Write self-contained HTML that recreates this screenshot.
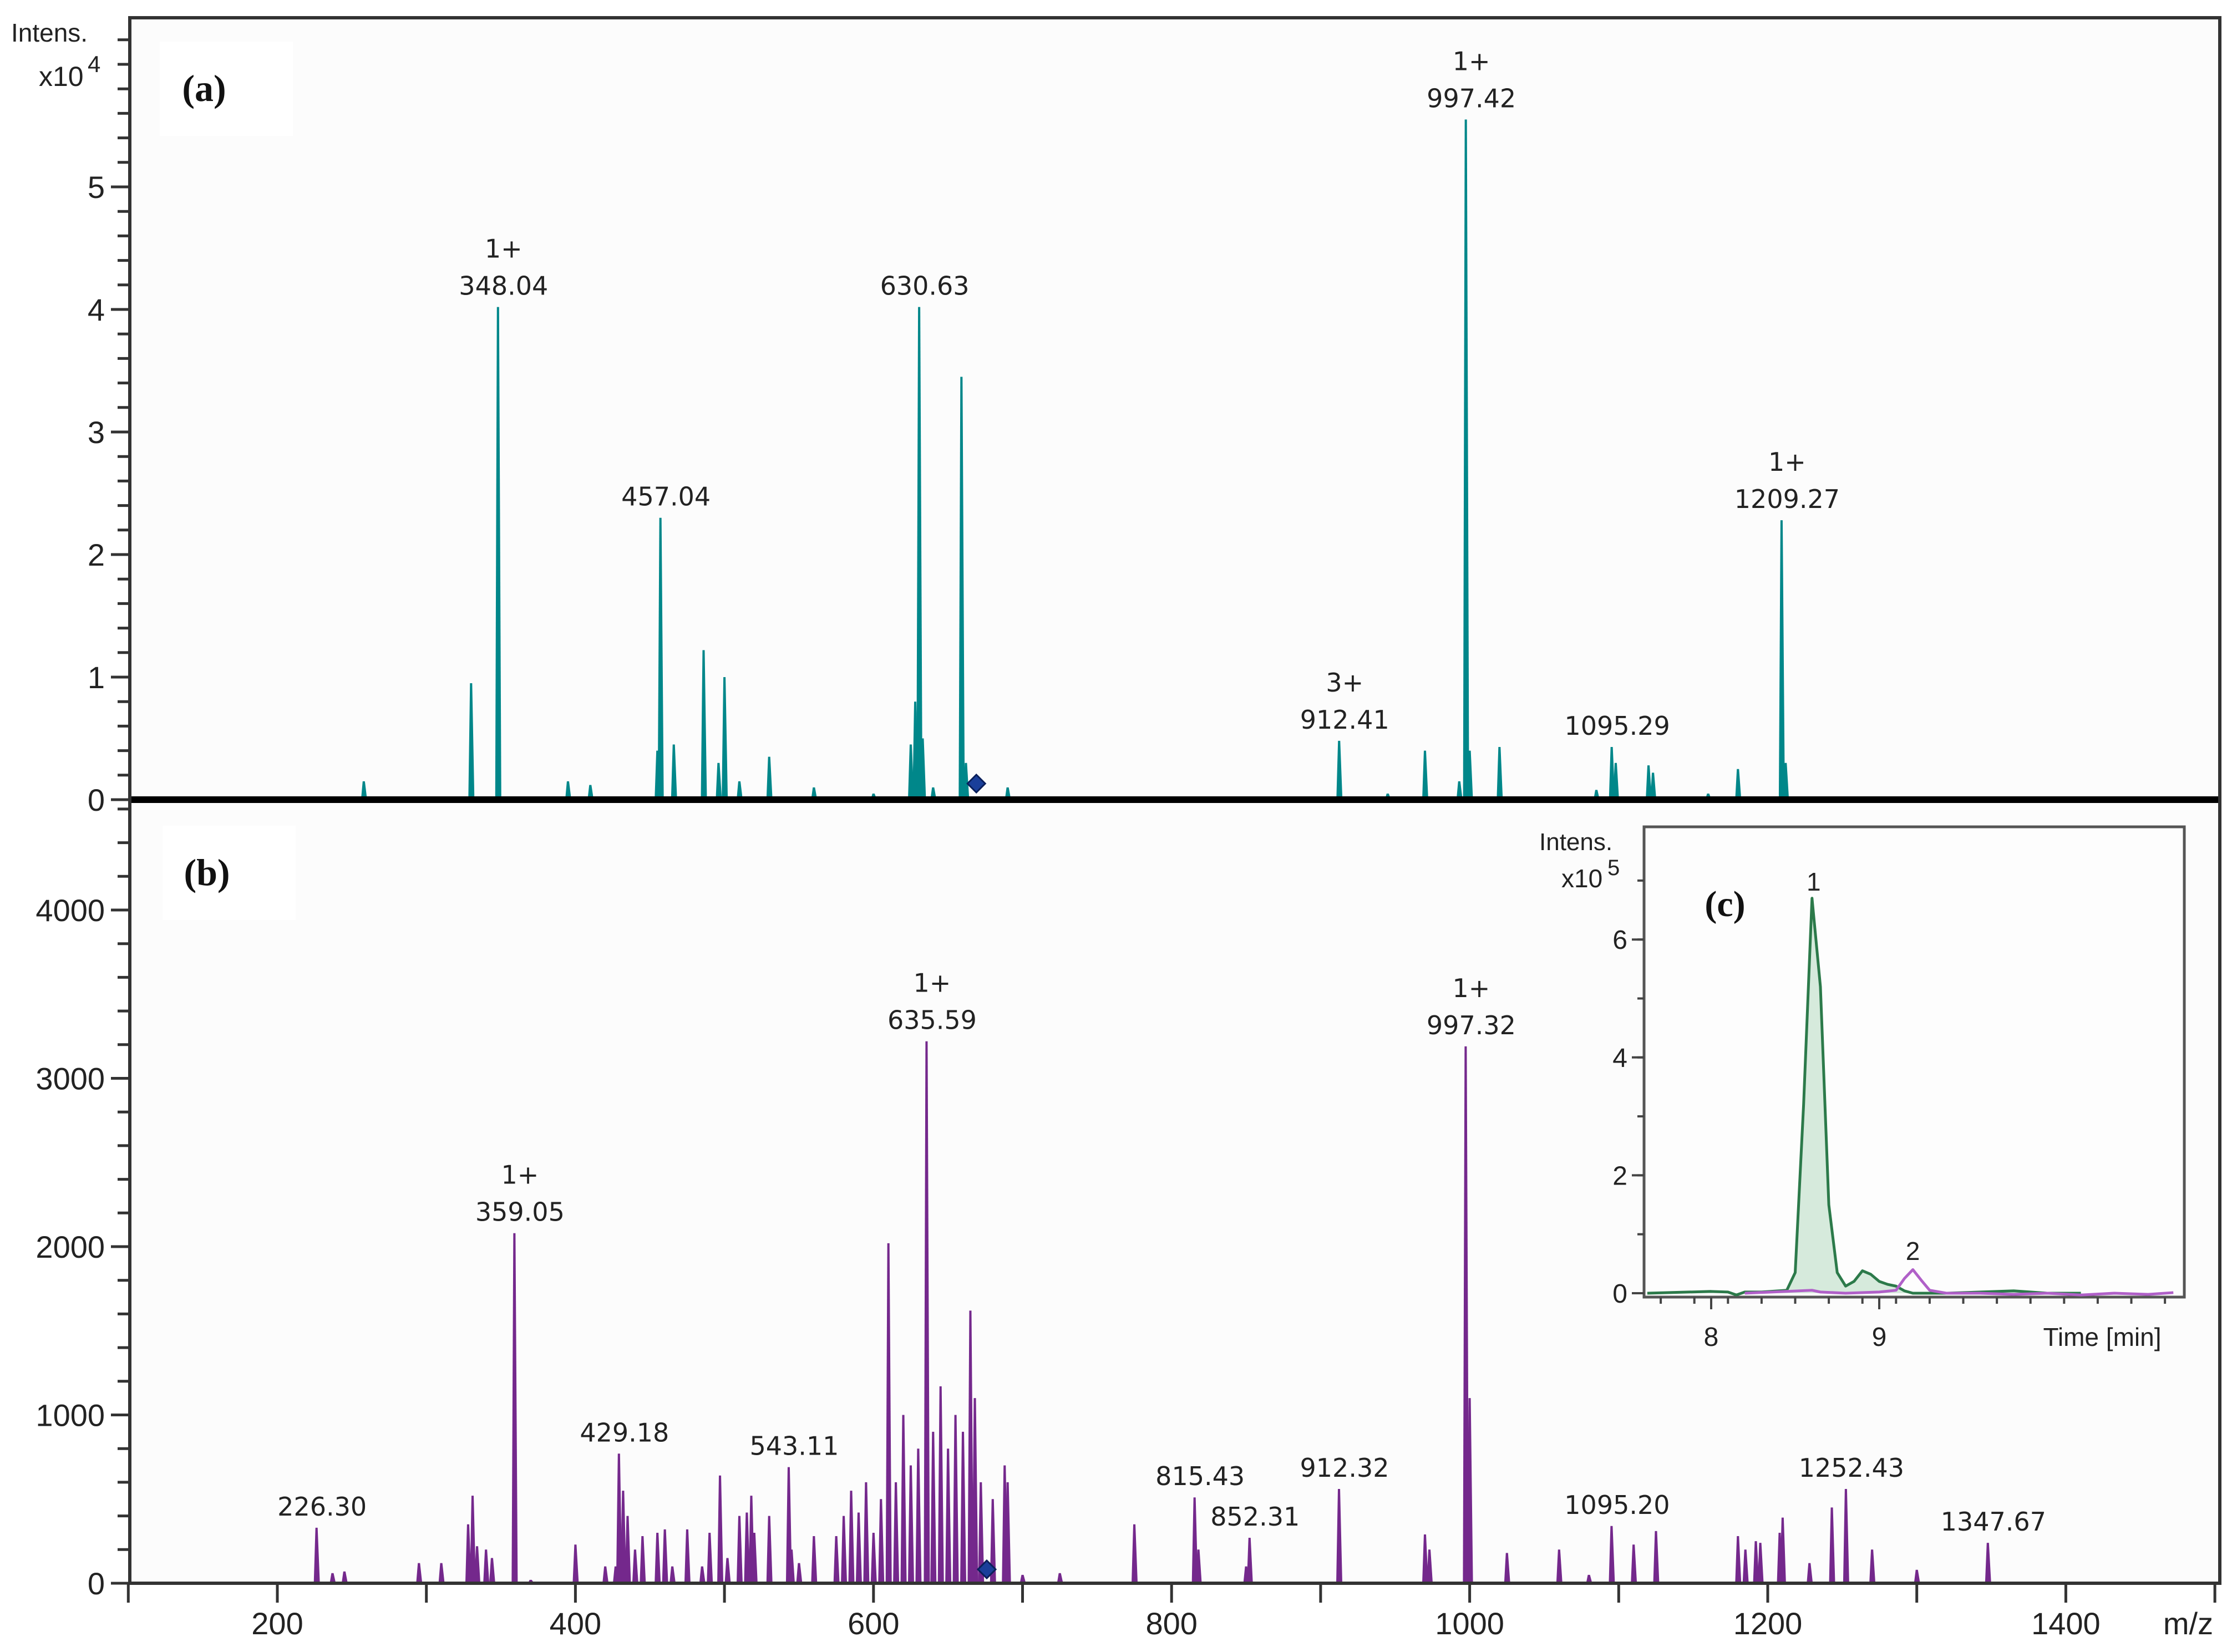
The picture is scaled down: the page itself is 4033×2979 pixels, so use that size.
<!DOCTYPE html>
<html><head><meta charset="utf-8"><style>
html,body{margin:0;padding:0;background:#fff;}
svg{display:block;}
text{font-family:"Liberation Sans",sans-serif;}
.lbl{font-family:"DejaVu Sans","Liberation Sans",sans-serif;font-size:46px;fill:#222;text-anchor:middle;}
.tk{font-size:56px;fill:#222;}
.serif{font-family:"Liberation Serif",serif !important;font-weight:bold;}
</style></head><body>
<svg id="fig" width="4033" height="2979" viewBox="0 0 4033 2979" xmlns="http://www.w3.org/2000/svg">
<rect x="0" y="0" width="4033" height="2979" fill="#ffffff"/>
<rect x="234" y="32" width="3768" height="2823" fill="#fcfcfc"/>
<g id="gA"></g><g id="gB"></g><g id="gC"></g><g id="gAx"></g>
</svg>
<script>
// ---- panel (a) data (intensity x10^4) ----
const aMz  = [258,330,348.04,395,410,455,457.04,466,486,496,500,510,530,560,600,625,628,630.63,633,640,659,662,690,912.41,945,970,993,997.42,1000,1020,1085,1095.29,1098,1120,1123,1160,1180,1209.27,1212,1290];
const aInt = [0.15,0.95,4.02,0.15,0.12,0.4,2.3,0.45,1.22,0.3,1.0,0.15,0.35,0.1,0.05,0.45,0.8,4.02,0.5,0.1,3.45,0.3,0.1,0.48,0.05,0.4,0.15,5.55,0.4,0.43,0.08,0.43,0.3,0.28,0.22,0.05,0.25,2.28,0.3,0.02];
const aLabMz = [348.04,457.04,630.63,997.42,912.41,1095.29,1209.27];
const aLabInt = [4.02,2.3,4.02,5.55,0.48,0.43,2.28];
const aLabTop = ["1+","","","1+","3+","","1+"];
const aLabBot = ["348.04","457.04","630.63","997.42","912.41","1095.29","1209.27"];
const aTicks = [0,1,2,3,4,5];
// ---- panel (b) data (intensity) ----
const bMz  = [226.30,237,245,295,310,328,331,334,340,344,359.05,370,400,420,427,429.18,432,435,440,445,455,460,465,475,485,490,497,502,510,515,518,520,530,543.11,545,550,560,575,580,585,590,595,600,605,610,615,620,625,630,635.59,640,645,650,655,660,665,668,672,680,688,690,700,725,775,815.43,818,850,852.31,912.32,970,973,997.32,1000,1025,1060,1080,1095.20,1110,1125,1180,1185,1192,1195,1208,1210,1228,1243,1252.43,1270,1300,1347.67];
const bInt = [330,60,70,120,120,350,520,220,200,150,2080,20,230,100,100,770,550,400,200,280,300,320,100,320,100,300,640,150,400,420,520,300,400,690,200,120,280,280,400,550,420,600,300,500,2020,600,1000,700,800,3220,900,1170,800,1000,900,1620,1100,600,500,700,600,50,60,350,510,200,100,270,560,290,200,3190,1100,180,200,50,340,230,310,280,200,250,240,300,390,120,450,560,200,80,240];
const bLabMz = [226.30,359.05,429.18,543.11,635.59,815.43,852.31,912.32,997.32,1095.20,1252.43,1347.67];
const bLabInt = [330,2080,770,690,3220,510,270,560,3190,340,560,240];
const bLabTop = ["","1+","","","1+","","","","1+","","",""];
const bLabBot = ["226.30","359.05","429.18","543.11","635.59","815.43","852.31","912.32","997.32","1095.20","1252.43","1347.67"];
const bTicks = [0,1000,2000,3000,4000];
const xTicks = [200,400,600,800,1000,1200,1400];
// ---- inset (c) data (x10^5) ----
const cTimeG = [7.62,8.0,8.1,8.15,8.2,8.3,8.45,8.5,8.55,8.6,8.65,8.7,8.75,8.8,8.85,8.9,8.95,9.0,9.05,9.1,9.15,9.2,9.4,9.8,10.0,10.2];
const cValG  = [0.0,0.03,0.02,-0.03,0.02,0.02,0.05,0.35,3.2,6.7,5.2,1.5,0.35,0.12,0.2,0.38,0.32,0.2,0.15,0.12,0.04,0.0,0.0,0.04,0.0,0.0];
const cTimeP = [8.2,8.6,8.65,8.8,9.0,9.1,9.15,9.2,9.25,9.3,9.4,9.6,9.8,10.0,10.2,10.4,10.6,10.75];
const cValP  = [0.0,0.05,0.02,0.0,0.02,0.05,0.25,0.4,0.22,0.05,0.0,0.0,-0.02,0.0,-0.03,0.0,-0.02,0.01];
const cTicks = [0,2,4,6];
const cXTicks = [8,9];

const NS="http://www.w3.org/2000/svg";
function mk(tag,attrs,parent){const e=document.createElementNS(NS,tag);for(const k in attrs)e.setAttribute(k,attrs[k]);parent.appendChild(e);return e;}
const X0=234,X1=4002;
const xS=m=>500+(m-200)*2.687;
const yA=v=>1442-v*221;
const yB=v=>2855-v*0.3035;
const xC=t=>3085+(t-8)*303;
const yC=v=>2332-v*106.3;
const gA=document.getElementById('gA'),gB=document.getElementById('gB'),gC=document.getElementById('gC'),gAx=document.getElementById('gAx');

function peaks(g,mz,iv,ys,col,name){
  mz.forEach((m,i)=>{
    const x=xS(m),y=ys(iv[i]),b=ys(0);
    const p=mk('polygon',{points:`${x-5},${b} ${x-2},${y} ${x+2},${y} ${x+6},${b}`,fill:col},g);
    
    
  });
}
function labels(g,mz,iv,top,bot,ys,name){
  mz.forEach((m,i)=>{
    const x=xS(m)+10,y=ys(iv[i])-22;
    const t=mk('text',{x:x,y:y,class:'lbl'},g);t.textContent=bot[i];
    
    
    if(top[i]){const t2=mk('text',{x:x,y:y-67,class:'lbl'},g);t2.textContent=top[i];
      
      }
  });
}
peaks(gA,aMz,aInt,yA,'#00878a','spectrum-a');
labels(gA,aLabMz,aLabInt,aLabTop,aLabBot,yA,'spectrum-a');
peaks(gB,bMz,bInt,yB,'#74288c','spectrum-b');
labels(gB,bLabMz,bLabInt,bLabTop,bLabBot,yB,'spectrum-b');
// baselines
mk('line',{x1:X0,y1:1442,x2:X1,y2:1442,stroke:'#000','stroke-width':12},gAx);
mk('line',{x1:X0,y1:2855,x2:X1,y2:2855,stroke:'#74288c','stroke-width':5},gB);
// diamonds
mk('polygon',{points:`${xS(669)},1397 ${xS(669)+16},1413 ${xS(669)},1429 ${xS(669)-16},1413`,fill:'#1a3f9a',stroke:'#0a1f5a','stroke-width':3},gA);
mk('polygon',{points:`${xS(676)},2814 ${xS(676)+16},2830 ${xS(676)},2846 ${xS(676)-16},2830`,fill:'#1a3f9a',stroke:'#0a1f5a','stroke-width':3},gB);
// frame
mk('rect',{x:X0,y:32,width:X1-X0,height:2823,fill:'none',stroke:'#333','stroke-width':6},gAx);
// y axis a
for(let v=0;v<=6.2001;v+=0.2){const y=yA(v);mk('line',{x1:X0-22,y1:y,x2:X0,y2:y,stroke:'#333','stroke-width':5},gAx);}
aTicks.forEach(v=>{const y=yA(v);mk('line',{x1:X0-34,y1:y,x2:X0,y2:y,stroke:'#333','stroke-width':5},gAx);
 const t=mk('text',{x:X0-45,y:y+20,class:'tk','text-anchor':'end'},gAx);t.textContent=v;
 });
// y axis b
for(let v=0;v<=4600;v+=200){const y=yB(v);mk('line',{x1:X0-22,y1:y,x2:X0,y2:y,stroke:'#333','stroke-width':5},gAx);}
bTicks.forEach(v=>{const y=yB(v);mk('line',{x1:X0-34,y1:y,x2:X0,y2:y,stroke:'#333','stroke-width':5},gAx);
 const t=mk('text',{x:X0-45,y:y+20,class:'tk','text-anchor':'end'},gAx);t.textContent=v;
 });
// x axis
for(let m=100;m<=1500;m+=100){const x=xS(m);mk('line',{x1:x,y1:2855,x2:x,y2:2890,stroke:'#333','stroke-width':5},gAx);}
xTicks.forEach(m=>{const t=mk('text',{x:xS(m),y:2947,class:'tk','text-anchor':'middle'},gAx);t.textContent=m;
 });
let t=mk('text',{x:3945,y:2947,class:'tk','text-anchor':'middle','font-size':50},gAx);t.textContent='m/z';
t=mk('text',{x:20,y:75,'font-size':46,fill:'#222'},gAx);t.textContent='Intens.';
t=mk('text',{x:70,y:155,'font-size':50,fill:'#222'},gAx);t.textContent='x10';
t=mk('text',{x:158,y:130,'font-size':42,fill:'#222'},gAx);t.textContent='4';
// panel labels
function plab(x,y,s,n){mk('rect',{x:x-80,y:y-85,width:240,height:170,fill:'#fff'},gAx);
 const e=mk('text',{x:x,y:y+22,class:'serif',style:'font-family:"Liberation Serif",serif;font-weight:bold;font-size:68px;',fill:'#111','text-anchor':'middle'},gAx);e.textContent=s;}
plab(368,160,'(a)','panel-label-a');plab(373,1574,'(b)','panel-label-b');
// inset c
const IL=2964,IR=3938,IT=1491,IB=2339;
mk('rect',{x:IL,y:IT,width:IR-IL,height:IB-IT,fill:'#fdfdfd',stroke:'#555','stroke-width':5},gC);
let d='M'+cTimeG.map((tt,i)=>`${xC(tt)},${yC(cValG[i])}`).join(' L');
mk('path',{d:d+` L${xC(cTimeG[cTimeG.length-1])},${yC(0)} L${xC(cTimeG[0])},${yC(0)} Z`,fill:'#d6eadc'},gC);
mk('path',{d:d,fill:'none',stroke:'#2c7a4a','stroke-width':5,'stroke-linejoin':'round'},gC);
let dp='M'+cTimeP.map((tt,i)=>`${xC(tt)},${yC(cValP[i])}`).join(' L');
mk('path',{d:dp,fill:'none',stroke:'#b060c8','stroke-width':5,'stroke-linejoin':'round'},gC);
for(let v=0;v<=7;v+=1){const y=yC(v);mk('line',{x1:IL-12,y1:y,x2:IL,y2:y,stroke:'#444','stroke-width':4},gC);}
cTicks.forEach(v=>{const y=yC(v);mk('line',{x1:IL-22,y1:y,x2:IL,y2:y,stroke:'#444','stroke-width':4},gC);
 const e=mk('text',{x:IL-30,y:y+17,'font-size':48,fill:'#222','text-anchor':'end'},gC);e.textContent=v;
 });
for(let tt=7.7;tt<=10.81;tt+=0.2){const x=xC(tt);mk('line',{x1:x,y1:IB,x2:x,y2:IB+12,stroke:'#444','stroke-width':4},gC);}
cXTicks.forEach(v=>{const x=xC(v);mk('line',{x1:x,y1:IB,x2:x,y2:IB+22,stroke:'#444','stroke-width':4},gC);
 const e=mk('text',{x:x,y:IB+88,'font-size':48,fill:'#222','text-anchor':'middle'},gC);e.textContent=v;
 });
t=mk('text',{x:3790,y:IB+88,'font-size':46,fill:'#222','text-anchor':'middle'},gC);t.textContent='Time [min]';
t=mk('text',{x:2775,y:1533,'font-size':44,fill:'#222'},gC);t.textContent='Intens.';
t=mk('text',{x:2815,y:1600,'font-size':46,fill:'#222'},gC);t.textContent='x10';
t=mk('text',{x:2898,y:1578,'font-size':40,fill:'#222'},gC);t.textContent='5';
t=mk('text',{x:xC(8.61),y:1606,'font-size':46,fill:'#222','text-anchor':'middle'},gC);t.textContent='1';
t=mk('text',{x:xC(9.2),y:2272,'font-size':46,fill:'#222','text-anchor':'middle'},gC);t.textContent='2';
t=mk('text',{x:3110,y:1652,class:'serif',style:'font-family:"Liberation Serif",serif;font-weight:bold;font-size:66px;',fill:'#111','text-anchor':'middle'},gC);t.textContent='(c)';
</script>
</body></html>
